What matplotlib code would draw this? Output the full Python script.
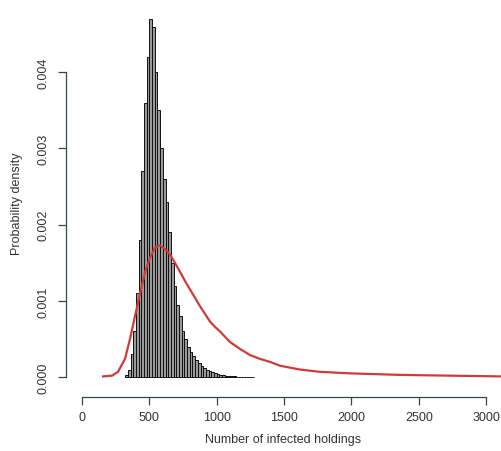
import matplotlib.pyplot as plt
import numpy as np

plt.rcParams["font.family"] = ["Liberation Sans", "DejaVu Sans"]

# histogram of simulated epidemic sizes (bin width 20)
bin_edges = np.arange(320, 1300, 20)
hist_density = [0.3, 1.0, 3.0, 6.0, 11, 18, 27, 36, 42, 47,
                46, 40, 35, 30, 26, 23, 19, 15, 12, 9.5,
                8.0, 6.0, 5.0, 4.0, 3.3, 2.8, 2.3, 1.8, 1.5, 1.2,
                1.0, 0.8, 0.65, 0.5, 0.4, 0.3, 0.25, 0.2, 0.15, 0.12,
                0.1, 0.08, 0.06, 0.05, 0.04, 0.03, 0.02, 0.01]
hist_density = np.array(hist_density) * 1e-4

# red density curve
curve_x = [156, 223, 267, 319, 356, 393, 431, 468, 505, 542, 579, 616, 653,
           690, 728, 765, 802, 839, 876, 913, 950, 987, 1024, 1099, 1173,
           1247, 1321, 1396, 1470, 1618, 1767, 1990, 2361, 2732, 3110]
curve_y = [0.01, 0.02, 0.07, 0.24, 0.5, 0.8, 1.1, 1.38, 1.57, 1.7, 1.73,
           1.68, 1.61, 1.5, 1.38, 1.26, 1.15, 1.04, 0.93, 0.83, 0.73, 0.66,
           0.6, 0.46, 0.37, 0.29, 0.24, 0.2, 0.15, 0.1, 0.07, 0.05, 0.03,
           0.02, 0.01]
curve_y = np.array(curve_y) * 1e-3

axcol = "#2e4a50"
txtcol = "#333333"

fig = plt.figure(figsize=(5.01, 4.52), dpi=100)
ax = fig.add_axes([66/501, 1-398/452, 1-66/501, (398-10)/452])

ax.bar(bin_edges[:-1], hist_density, width=20, align="edge",
       color="#9a9a9a", edgecolor="#111111", linewidth=0.7)
ax.plot(curve_x, curve_y, color="#d23a3a", linewidth=1.6)

ax.set_xlim(-119, 3110)
ax.set_ylim(-0.00026, 0.00483)

for s in ["top", "right"]:
    ax.spines[s].set_visible(False)
ax.spines["left"].set_bounds(0, 0.004)
ax.spines["bottom"].set_bounds(0, 3000)
for s in ["left", "bottom"]:
    ax.spines[s].set_color(axcol)
    ax.spines[s].set_linewidth(0.9)

ax.set_xticks([0, 500, 1000, 1500, 2000, 2500, 3000])
ax.set_yticks([0, 0.001, 0.002, 0.003, 0.004])
ax.set_yticklabels(["0.000", "0.001", "0.002", "0.003", "0.004"],
                   rotation=90, va="center")
ax.tick_params(direction="out", length=6, width=0.9, color=axcol,
               labelcolor=txtcol, labelsize=9, pad=4)
ax.tick_params(axis="y", pad=6)

ax.set_xlabel("Number of infected holdings", fontsize=9, color=txtcol, labelpad=7)
ax.set_ylabel("Probability density", fontsize=9, color=txtcol, labelpad=10)

fig.savefig("out.png", dpi=100)
